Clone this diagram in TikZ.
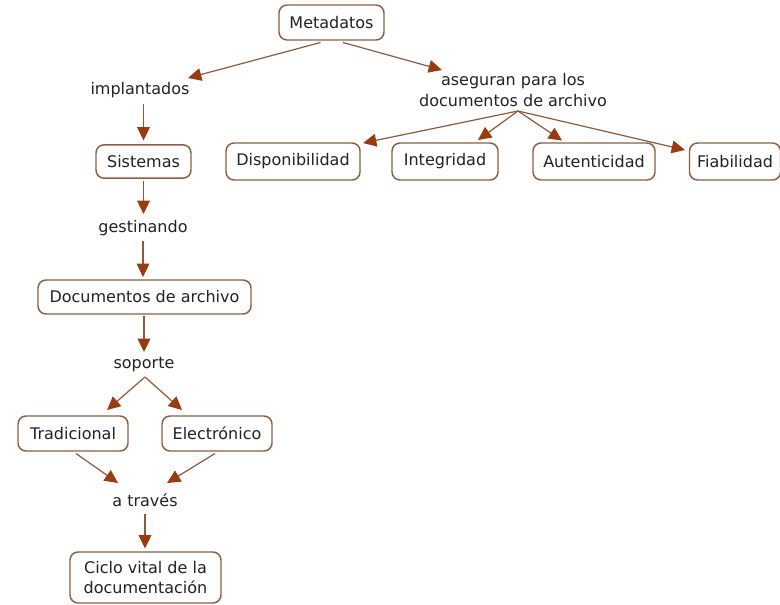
\documentclass[tikz,border=0pt]{standalone}
\usepackage{fontspec}
\setmainfont{DejaVu Sans}
\usetikzlibrary{arrows.meta}
\definecolor{boxline}{HTML}{8C5E45}
\definecolor{linkline}{HTML}{8A5A3E}
\definecolor{tipfill}{HTML}{9A3A10}
\definecolor{inktext}{HTML}{222222}
\tikzset{
  concept/.style={draw=boxline, line width=1.1pt, rounded corners=6pt, fill=white,
    text=inktext, font=\fontsize{12pt}{15.5pt}\selectfont, align=center,
    minimum height=26.25pt, inner sep=2pt},
  linkword/.style={text=inktext, font=\fontsize{12pt}{15.5pt}\selectfont, align=center, inner sep=1pt},
  conn/.style={draw=linkline, line width=0.9pt,
    -{Triangle[length=10pt,width=9.5pt,color=tipfill]}}
}
\begin{document}
\begin{tikzpicture}[x=0.75pt,y=-0.75pt]
\useasboundingbox (0,0) rectangle (780,604);

% concepts
\node[concept, minimum width=78.75pt] (meta) at (331.5,22.5) {Metadatos};
\node[concept, minimum width=71.25pt, minimum height=25pt] (sist) at (143.5,161.5) {Sistemas};
\node[concept, minimum width=100.5pt, minimum height=27.75pt] (disp) at (293,161.5) {Disponibilidad};
\node[concept, minimum width=79.5pt, minimum height=27.75pt] (integ) at (445,161.5) {Integridad};
\node[concept, minimum width=91.5pt, minimum height=27.75pt] (aut) at (594,161.5) {Autenticidad};
\node[concept, minimum width=68.25pt, minimum height=27.75pt] (fiab) at (735,161.5) {Fiabilidad};
\node[concept, minimum width=159.75pt, minimum height=25.5pt] (doc) at (144.5,297) {Documentos de archivo};
\node[concept, minimum width=82.5pt] (trad) at (73,433.5) {Tradicional};
\node[concept, minimum width=82.5pt] (elec) at (217,433.5) {Electrónico};
\node[concept, minimum width=113.25pt, minimum height=38.25pt] (ciclo) at (145.5,577.5) {Ciclo vital de la\\documentación};

% linking phrases
\node[linkword] (impl) at (140,90) {implantados};
\node[linkword] (aseg) at (513,90) {aseguran para los\\documentos de archivo};
\node[linkword] (gest) at (143,228) {gestinando};
\node[linkword] (sop) at (144,365) {soporte};
\node[linkword] (via) at (145,500) {a través};

% connectors
\draw[conn] ([shift={(-11,20)}]meta.center) -- ([shift={(48,-12)}]impl.center);
\draw[conn] ([shift={(11.5,20)}]meta.center) -- ([shift={(-71,-20)}]aseg.center);
\draw[conn] ([shift={(3.5,14)}]impl.center) -- ([shift={(0,-21)}]sist.center);

\draw[conn] ([shift={(5,21)}]aseg.center) -- ([shift={(70,-18.5)}]disp.center);
\draw[conn] ([shift={(5,21)}]aseg.center) -- ([shift={(33,-21.5)}]integ.center);
\draw[conn] ([shift={(5,21)}]aseg.center) -- ([shift={(-32,-21)}]aut.center);
\draw[conn] ([shift={(5,21)}]aseg.center) -- ([shift={(-50,-11.5)}]fiab.center);

\draw[conn] ([shift={(0,19)}]sist.center) -- ([shift={(0.5,-14)}]gest.center);
\draw[conn] ([shift={(0,13)}]gest.center) -- ([shift={(-1.5,-20)}]doc.center);
\draw[conn] ([shift={(-0.5,19)}]doc.center) -- ([shift={(0,-13)}]sop.center);

\draw[conn] ([shift={(1,12)}]sop.center) -- ([shift={(34,-23.5)}]trad.center);
\draw[conn] ([shift={(1,12)}]sop.center) -- ([shift={(-35,-23.5)}]elec.center);

\draw[conn] ([shift={(3,20)}]trad.center) -- ([shift={(-27,-17)}]via.center);
\draw[conn] ([shift={(-2,20)}]elec.center) -- ([shift={(22,-17)}]via.center);
\draw[conn] ([shift={(0,14)}]via.center) -- ([shift={(-0.5,-29)}]ciclo.center);
\end{tikzpicture}
\end{document}
